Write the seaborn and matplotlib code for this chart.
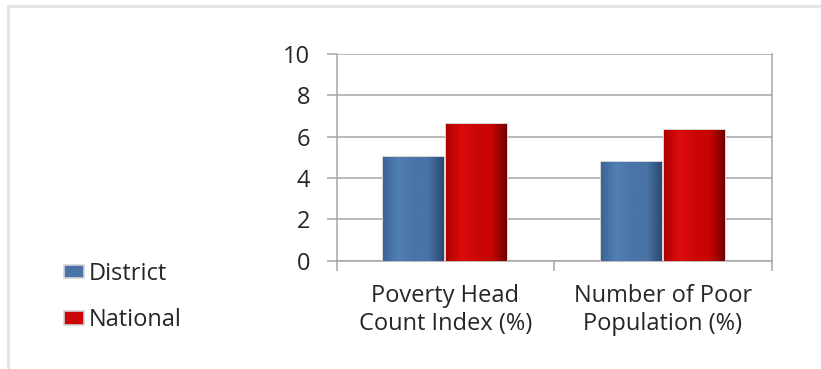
import numpy as np
import pandas as pd
import matplotlib
matplotlib.use("Agg")
import matplotlib.pyplot as plt
import seaborn as sns
from matplotlib.colors import LinearSegmentedColormap
from matplotlib.lines import Line2D

categories = ["Poverty Head\nCount Index (%)", "Number of Poor\nPopulation (%)"]
series = ["District", "National"]
district = [5.0, 4.8]
national = [6.6, 6.3]
colors = {"District": "#4a74a8", "National": "#cc0606"}

df = pd.DataFrame({
    "category": categories * 2,
    "series": [series[0]] * 2 + [series[1]] * 2,
    "value": district + national,
})

sns.set_style("white")
plt.rcParams["font.family"] = ["Open Sans", "DejaVu Sans"]

fig = plt.figure(figsize=(8.21, 3.69), dpi=100)
ax = fig.add_axes([0.410, 0.293, 0.530, 0.561])

sns.barplot(data=df, x="category", y="value", hue="series", palette=colors,
            width=0.58, gap=0.035, edgecolor="#d4d4d4", linewidth=1.4,
            ax=ax, legend=False, zorder=3)

# fake bevel shading on each bar
shades = {
    "District": LinearSegmentedColormap.from_list("b", ["#3d6596", "#5080b6", "#4a74a8", "#4a74a8", "#2b4a72"]),
    "National": LinearSegmentedColormap.from_list("r", ["#b00000", "#dc0c0c", "#cc0606", "#c80404", "#740000"]),
}
grad = np.linspace(0, 1, 64).reshape(1, -1)
n = len(categories)
for i, p in enumerate(ax.patches[: 2 * n]):
    s = series[i // n]
    x0, y0 = p.get_x(), p.get_y()
    w, h = p.get_width(), p.get_height()
    im = ax.imshow(grad, cmap=shades[s], aspect="auto",
                   extent=[x0, x0 + w, y0, y0 + h], zorder=3.5,
                   interpolation="bicubic")
    im.set_clip_path(p)

ax.set_xlim(-0.5, 1.5)
ax.set_ylim(0, 10)
ax.set_yticks(range(0, 11, 2))
ax.set_xlabel("")
ax.set_ylabel("")
ax.grid(axis="y", color="#a6a6a6", linewidth=1.1, zorder=0)
ax.set_axisbelow(True)
for sp in ax.spines.values():
    sp.set_visible(True)
    sp.set_color("#a6a6a6")
    sp.set_linewidth(1.1)
ax.spines["top"].set_visible(False)

ax.set_xticks([-0.5, 0.5, 1.5], minor=True)
ax.tick_params(axis="x", which="minor", length=7, width=1.1, color="#a6a6a6",
               direction="out", bottom=True)
ax.tick_params(axis="x", which="major", length=0, pad=17, labelsize=17,
               labelcolor="#262626")
ax.tick_params(axis="y", length=7, width=1.1, color="#a6a6a6", direction="out",
               left=True, pad=12, labelsize=17, labelcolor="#262626")
for t in ax.get_xticklabels():
    t.set_linespacing(1.22)

handles = [plt.Rectangle((0, 0), 1, 1, facecolor=colors[s], edgecolor="#d4d4d4", linewidth=1.2)
           for s in series]
fig.legend(handles, series, loc="upper left", bbox_to_anchor=(64 / 821, 1 - 262 / 369),
           frameon=False, fontsize=17, handlelength=0.85, handleheight=0.5,
           handletextpad=0.2, labelspacing=0.95, borderaxespad=0, borderpad=0,
           labelcolor="#262626")

# outer chart border (top and left edges visible)
fig.add_artist(Line2D([8 / 821, 8 / 821], [0, 1 - 6 / 369], transform=fig.transFigure,
                      color="#e3e3e3", linewidth=2))
fig.add_artist(Line2D([8 / 821, 1], [1 - 6 / 369, 1 - 6 / 369], transform=fig.transFigure,
                      color="#e3e3e3", linewidth=2))

fig.savefig("out.png", dpi=100)
